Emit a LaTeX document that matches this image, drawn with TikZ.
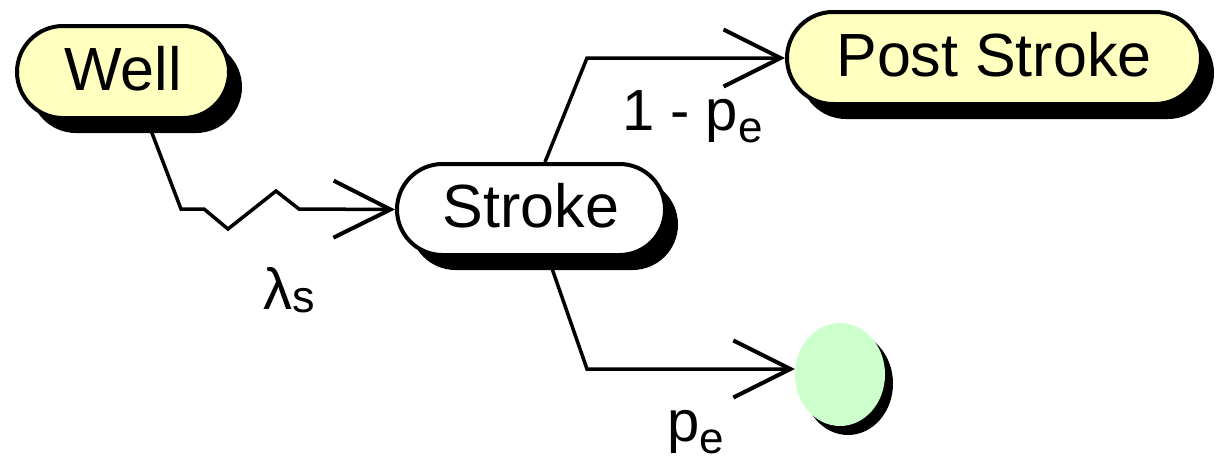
\documentclass[tikz,border=0pt]{standalone}
\usepackage{fontspec}
\setmainfont{Liberation Sans}
\usetikzlibrary{shapes.misc,shapes.geometric,arrows.meta,shadows}
\definecolor{pillyellow}{HTML}{FFFFC0}
\definecolor{endgreen}{HTML}{CCFFCC}
\begin{document}
\begin{tikzpicture}[x=1pt,y=-1pt,
  pill/.style={rounded rectangle, draw=black, line width=4pt, inner sep=0pt,
    text height=44pt, text depth=8pt, font=\fontsize{61}{61}\selectfont,
    drop shadow={shadow xshift=13pt, shadow yshift=-15pt, fill=black, opacity=1}},
  endstate/.style={ellipse, draw=none, fill=endgreen, inner sep=0pt,
    drop shadow={shadow xshift=8pt, shadow yshift=-9pt, fill=black, opacity=1}},
  conn/.style={line width=3.5pt, line join=miter,
    -{Straight Barb[length=57pt,width=57pt,line width=4pt]}},
  lab/.style={anchor=base west, inner sep=0pt, font=\fontsize{58}{58}\selectfont}]
\useasboundingbox (0,0) rectangle (1219,459);

\node[pill, fill=pillyellow, minimum width=212pt, minimum height=92pt] (well) at (123,72) {Well};
\node[pill, fill=white, minimum width=268pt, minimum height=91pt] (stroke) at (531,209.5) {Stroke};
\node[pill, fill=pillyellow, minimum width=414pt, minimum height=92pt] (post) at (994,58) {Post Stroke};
\node[endstate, minimum width=90pt, minimum height=103pt] (end) at (840,374.5) {};

% Well -> Stroke (zigzag)
\coordinate (w1) at (181,209);
\coordinate (w2) at (204,209);
\coordinate (w3) at (228,229);
\coordinate (w4) at (276,191);
\coordinate (w5) at (299,209);
\draw[conn] ([xshift=24pt]well.south) -- (w1) -- (w2) -- (w3) -- (w4) -- (w5) -- (stroke.west);

% Stroke -> Post Stroke
\coordinate (p1) at (587,58);
\draw[conn] ([xshift=14pt]stroke.north) -- (p1) -- (post.west);

% Stroke -> end
\coordinate (e1) at (587,369);
\draw[conn] ([xshift=17pt]stroke.south) -- (e1) -- (e1 -| end.west);

% labels
\node[lab] (lamlab) at (263,309) {λ\raisebox{-3pt}{\fontsize{45}{45}\selectfont s}};
\node[lab] (uplab) at (622,130) {1 - p\raisebox{-12pt}{\fontsize{44}{44}\selectfont e}};
\node[lab] (downlab) at (667,441) {p\raisebox{-12pt}{\fontsize{44}{44}\selectfont e}};
\end{tikzpicture}
\end{document}
